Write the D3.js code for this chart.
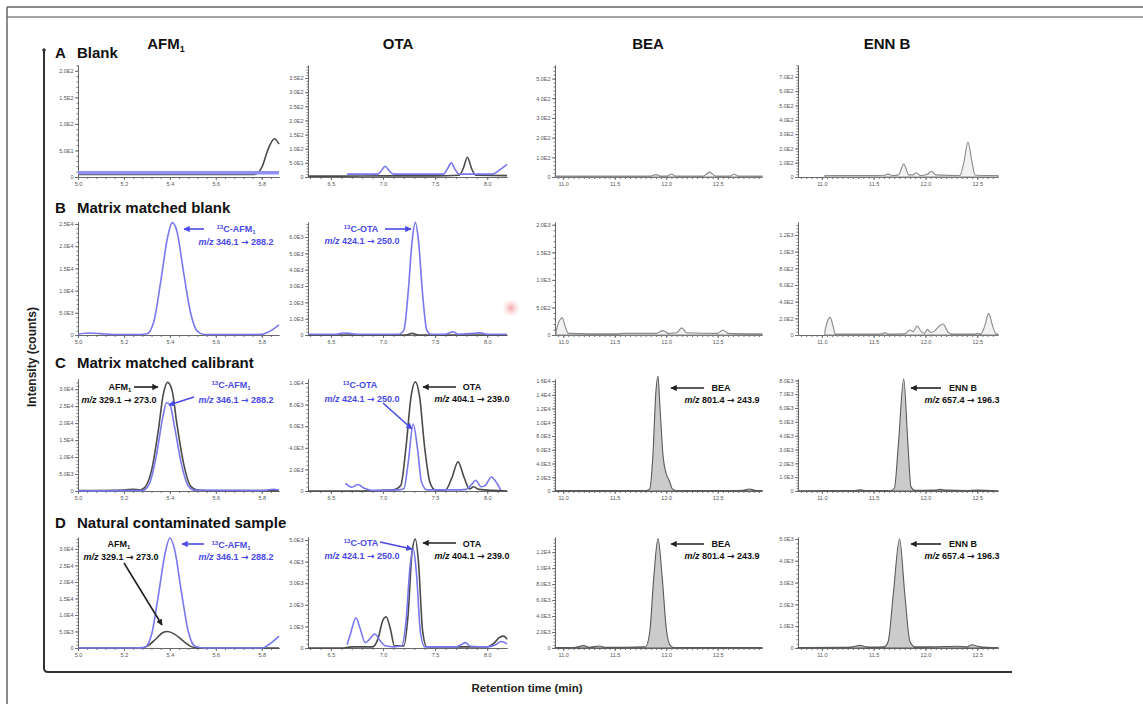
<!DOCTYPE html>
<html><head><meta charset="utf-8">
<script src="https://cdn.jsdelivr.net/npm/d3@7"></script>
<style>
body{margin:0;background:#fff;}
svg{display:block;font-family:"Liberation Sans",Arial,sans-serif;}
</style></head><body>
<svg id="c" width="1143" height="704"></svg>
<script>
// ---------------- DATA ----------------
const rowLetters = ["A","B","C","D"];
const rowTitles = ["Blank","Matrix matched blank","Matrix matched calibrant","Natural contaminated sample"];
const columnTitles = [["AFM","1"],["OTA",""],["BEA",""],["ENN B",""]];

const afmXTicks = [5.0,5.2,5.4,5.6,5.8];
const otaXTicks = [6.5,7.0,7.5,8.0];
const beaXTicks = [11.0,11.5,12.0,12.5];
const ennXTicks = [11.0,11.5,12.0,12.5];

const afmYTicksA = [0,50,100,150,200];
const otaYTicksA = [0,50,100,150,200,250,300,350];
const beaYTicksA = [0,100,200,300,400,500];
const ennYTicksA = [0,100,200,300,400,500,600,700];
const afmYTicksB = [0,5000,10000,15000,20000,25000];
const otaYTicksB = [0,1000,2000,3000,4000,5000,6000];
const beaYTicksB = [0,500,1000,1500,2000];
const ennYTicksB = [0,200,400,600,800,1000,1200];
const afmYTicksC = [0,5000,10000,15000,20000,25000,30000];
const otaYTicksC = [0,2000,4000,6000,8000,10000];
const beaYTicksC = [0,2000,4000,6000,8000,10000,12000,14000,16000];
const ennYTicksC = [0,1000,2000,3000,4000,5000,6000,7000,8000];
const afmYTicksD = [0,5000,10000,15000,20000,25000,30000];
const otaYTicksD = [0,1000,2000,3000,4000,5000];
const beaYTicksD = [0,2000,4000,6000,8000,10000,12000];
const ennYTicksD = [0,1000,2000,3000,4000,5000];

// traces: [retention time (min), intensity (counts)]
const afmA_analyte = [[5.0,5],[5.3,5],[5.6,5],[5.77,5],[5.8,18],[5.83,55],[5.855,72],[5.875,62]];
const afmA_label   = [[5.0,8],[5.4,8],[5.875,8]];
const afmB_label   = [[5.0,200],[5.05,450],[5.1,300],[5.15,100],[5.25,100],[5.3,300],[5.33,3000],[5.36,12000],[5.39,22000],[5.41,25300],[5.43,23500],[5.46,14000],[5.49,5000],[5.52,800],[5.55,100],[5.7,100],[5.8,150],[5.83,700],[5.875,2300]];
const afmC_analyte = [[5.0,100],[5.2,300],[5.24,500],[5.27,300],[5.29,1000],[5.32,6000],[5.35,18000],[5.37,28000],[5.39,32000],[5.41,29500],[5.43,20000],[5.46,8000],[5.49,1500],[5.52,300],[5.6,100],[5.875,100]];
const afmC_label   = [[5.0,0],[5.2,100],[5.28,100],[5.31,2000],[5.34,10000],[5.37,22000],[5.385,26000],[5.4,25500],[5.42,19000],[5.45,8000],[5.48,1500],[5.51,200],[5.8,100],[5.85,500],[5.875,300]];
const afmD_analyte = [[5.0,0],[5.27,0],[5.3,500],[5.34,2800],[5.37,4700],[5.39,5000],[5.42,4200],[5.46,2000],[5.49,500],[5.52,0],[5.875,0]];
const afmD_label   = [[5.0,0],[5.25,0],[5.29,200],[5.32,4000],[5.35,16000],[5.38,29000],[5.40,33300],[5.42,30000],[5.45,17000],[5.48,5000],[5.51,500],[5.55,0],[5.8,0],[5.83,1000],[5.875,3600]];

const otaA_analyte = [[6.28,3],[6.6,3],[7.0,4],[7.5,4],[7.73,6],[7.77,30],[7.81,70],[7.85,30],[7.89,6],[8.19,5]];
const otaA_label   = [[6.655,10],[6.95,10],[6.99,25],[7.02,38],[7.06,22],[7.1,10],[7.58,10],[7.62,30],[7.655,50],[7.69,28],[7.73,10],[8.05,10],[8.12,25],[8.19,45]];
const otaB_analyte = [[6.28,0],[7.22,0],[7.28,100],[7.34,0],[8.19,0]];
const otaB_label   = [[6.28,50],[6.55,50],[6.62,120],[6.68,100],[6.75,50],[7.15,50],[7.2,300],[7.24,2500],[7.28,5800],[7.31,6900],[7.34,5800],[7.38,2500],[7.42,300],[7.46,50],[7.6,50],[7.67,200],[7.72,50],[7.88,100],[7.93,130],[8.0,50],[8.19,50]];
const otaC_analyte = [[6.28,0],[6.8,0],[7.1,100],[7.17,500],[7.22,4000],[7.27,8800],[7.31,10100],[7.35,8800],[7.4,4000],[7.45,800],[7.5,100],[7.6,100],[7.66,1200],[7.72,2700],[7.78,1200],[7.83,200],[7.87,400],[7.92,150],[8.19,0]];
const otaC_label   = [[6.64,700],[6.7,350],[6.76,600],[6.82,250],[6.9,50],[7.15,100],[7.2,200],[7.24,2500],[7.29,6200],[7.33,4000],[7.37,800],[7.42,100],[7.7,100],[7.8,150],[7.85,600],[7.89,1000],[7.94,400],[7.98,500],[8.04,1300],[8.08,900],[8.13,100]];
const otaD_analyte = [[6.28,0],[6.6,0],[6.7,50],[6.9,50],[6.95,400],[7.0,1300],[7.03,1450],[7.07,900],[7.11,100],[7.2,100],[7.24,1500],[7.28,4500],[7.31,5050],[7.34,4000],[7.38,800],[7.42,50],[8.0,50],[8.06,200],[8.12,500],[8.16,550],[8.19,400]];
const otaD_label   = [[6.655,150],[6.69,700],[6.74,1400],[6.78,900],[6.83,250],[6.87,400],[6.92,650],[6.97,350],[7.02,100],[7.1,50],[7.18,100],[7.22,1200],[7.26,3800],[7.29,4600],[7.32,3500],[7.36,700],[7.4,50],[7.7,50],[7.75,150],[7.79,250],[7.84,80],[8.0,50],[8.08,150],[8.13,300],[8.19,200]];

const beaA = [[10.92,5],[11.85,5],[11.9,12],[11.94,5],[12.01,5],[12.05,15],[12.09,5],[12.36,5],[12.42,25],[12.48,5],[12.62,5],[12.66,14],[12.7,5],[12.93,5]];
const beaB = [[10.93,60],[10.96,250],[10.99,310],[11.02,150],[11.05,30],[11.5,20],[11.6,30],[11.9,30],[11.97,80],[12.02,30],[12.1,40],[12.15,130],[12.2,40],[12.5,30],[12.55,90],[12.6,30],[12.93,20]];
const beaC = [[10.92,50],[11.5,50],[11.8,60],[11.84,300],[11.87,5000],[11.9,14500],[11.92,16700],[11.94,12000],[11.97,5000],[12.0,2500],[12.03,1500],[12.06,300],[12.1,50],[12.6,50],[12.75,100],[12.81,300],[12.86,100],[12.93,50]];
const beaD = [[10.92,50],[11.1,50],[11.2,300],[11.25,100],[11.35,250],[11.4,100],[11.6,100],[11.8,150],[11.84,2000],[11.88,9000],[11.92,13700],[11.96,9000],[12.0,2500],[12.04,300],[12.08,50],[12.93,50]];

const ennA = [[11.03,10],[11.5,10],[11.6,12],[11.64,20],[11.68,10],[11.74,15],[11.79,90],[11.84,15],[11.88,15],[11.91,30],[11.95,10],[12.02,20],[12.06,40],[12.1,15],[12.33,10],[12.37,100],[12.41,245],[12.45,100],[12.48,12],[12.70,10]];
const ennB = [[11.03,50],[11.05,150],[11.08,212],[11.11,100],[11.13,10],[11.5,10],[11.58,15],[11.61,28],[11.64,10],[11.8,15],[11.85,60],[11.88,40],[11.92,108],[11.96,40],[11.99,20],[12.02,68],[12.05,30],[12.09,50],[12.12,92],[12.17,132],[12.22,30],[12.27,10],[12.47,10],[12.5,20],[12.53,10],[12.57,100],[12.61,260],[12.65,100],[12.68,15],[12.70,10]];
const ennC = [[10.77,20],[11.3,30],[11.37,90],[11.43,30],[11.6,40],[11.66,20],[11.7,200],[11.74,3500],[11.79,8100],[11.83,3500],[11.86,300],[11.9,50],[12.1,60],[12.14,120],[12.2,60],[12.4,40],[12.5,60],[12.70,20]];
const ennD = [[10.77,20],[11.2,30],[11.3,60],[11.37,120],[11.42,60],[11.5,40],[11.6,50],[11.64,300],[11.69,2500],[11.75,5000],[11.8,2500],[11.85,300],[11.9,50],[12.1,60],[12.3,80],[12.4,60],[12.45,150],[12.5,80],[12.6,30],[12.70,20]];

const mzAFM = "329.1 \u2192 273.0";
const mzAFMlabel = "346.1 \u2192 288.2";
const mzOTA = "404.1 \u2192 239.0";
const mzOTAlabel = "424.1 \u2192 250.0";
const mzBEA = "801.4 \u2192 243.9";
const mzENN = "657.4 \u2192 196.3";

// ---------------- LAYOUT ----------------
const W = 1143, H = 704;
const BLUE = "#7878ee", BLUE_TXT = "#4a4ae6", DARK = "#4a4a4a";
const colLayout = [
  {left:78, right:279, domain:[5.0,5.875], minor:0.04, xTicks:afmXTicks},
  {left:308, right:507, domain:[6.28,8.19], minor:0.1, xTicks:otaXTicks},
  {left:555, right:762, domain:[10.92,12.93], minor:0.05, xTicks:beaXTicks},
  {left:798, right:998, domain:[10.77,12.70], minor:0.05, xTicks:ennXTicks}
];
const rowLayout = [{top:65, base:177},{top:222, base:335},{top:379, base:491},{top:537, base:648}];

const panels = [
  {r:0,c:0,yMax:211,yTicks:afmYTicksA,traces:[{d:afmA_analyte,t:"black"},{d:afmA_label,t:"band"}]},
  {r:0,c:1,yMax:396,yTicks:otaYTicksA,traces:[{d:otaA_analyte,t:"black"},{d:otaA_label,t:"blue"}]},
  {r:0,c:2,yMax:569,yTicks:beaYTicksA,traces:[{d:beaA,t:"light"}]},
  {r:0,c:3,yMax:783,yTicks:ennYTicksA,traces:[{d:ennA,t:"light"}]},
  {r:1,c:0,yMax:25450,yTicks:afmYTicksB,traces:[{d:afmB_label,t:"blue"}]},
  {r:1,c:1,yMax:6920,yTicks:otaYTicksB,traces:[{d:otaB_analyte,t:"black"},{d:otaB_label,t:"blue"}]},
  {r:1,c:2,yMax:2050,yTicks:beaYTicksB,traces:[{d:beaB,t:"light"}]},
  {r:1,c:3,yMax:1356,yTicks:ennYTicksB,traces:[{d:ennB,t:"light"}]},
  {r:2,c:0,yMax:33000,yTicks:afmYTicksC,traces:[{d:afmC_analyte,t:"black"},{d:afmC_label,t:"blue"}]},
  {r:2,c:1,yMax:10370,yTicks:otaYTicksC,traces:[{d:otaC_analyte,t:"black"},{d:otaC_label,t:"blue"}]},
  {r:2,c:2,yMax:16300,yTicks:beaYTicksC,traces:[{d:beaC,t:"fill"}]},
  {r:2,c:3,yMax:8100,yTicks:ennYTicksC,traces:[{d:ennC,t:"fill"}]},
  {r:3,c:0,yMax:33600,yTicks:afmYTicksD,traces:[{d:afmD_analyte,t:"black"},{d:afmD_label,t:"blue"}]},
  {r:3,c:1,yMax:5140,yTicks:otaYTicksD,traces:[{d:otaD_analyte,t:"black"},{d:otaD_label,t:"blue"}]},
  {r:3,c:2,yMax:13900,yTicks:beaYTicksD,traces:[{d:beaD,t:"fill"}]},
  {r:3,c:3,yMax:5090,yTicks:ennYTicksD,traces:[{d:ennD,t:"fill"}]}
];

const svg = d3.select("#c");
const defs = svg.append("defs");
function marker(id,color){
  defs.append("marker").attr("id",id).attr("viewBox","0 0 10 10").attr("refX",9).attr("refY",5)
    .attr("markerWidth",4).attr("markerHeight",4).attr("orient","auto-start-reverse")
    .append("path").attr("d","M0,0 L10,5 L0,10 z").attr("fill",color);
}
marker("ab","#222"); marker("au",BLUE_TXT);
const rg = defs.append("radialGradient").attr("id","pink");
rg.append("stop").attr("offset","0%").attr("stop-color","#f2a0a0").attr("stop-opacity",0.9);
rg.append("stop").attr("offset","100%").attr("stop-color","#f6c8c8").attr("stop-opacity",0);

// outer frame
svg.append("line").attr("x1",7).attr("y1",7).attr("x2",W).attr("y2",7).attr("stroke","#666").attr("stroke-width",1.5);
svg.append("line").attr("x1",7).attr("y1",17).attr("x2",W).attr("y2",17).attr("stroke","#888").attr("stroke-width",1.5);
svg.append("line").attr("x1",7).attr("y1",7).attr("x2",7).attr("y2",H).attr("stroke","#666").attr("stroke-width",1.5);
// inner L frame
svg.append("path").attr("d","M44,50 L44,668 Q44,672 48,672 L1012,672").attr("fill","none").attr("stroke","#333").attr("stroke-width",2);
svg.append("circle").attr("cx",44).attr("cy",50).attr("r",1.8).attr("fill","#333");

svg.append("text").attr("transform","translate(36,357) rotate(-90)").attr("text-anchor","middle")
  .attr("font-size",12).attr("font-weight","bold").attr("fill","#222").text("Intensity (counts)");
svg.append("text").attr("x",527).attr("y",692).attr("text-anchor","middle")
  .attr("font-size",11.5).attr("font-weight","bold").attr("fill","#222").text("Retention time (min)");

// column titles
const colCenters = [166,398,648,887];
columnTitles.forEach((t,i)=>{
  const tx = svg.append("text").attr("x",colCenters[i]).attr("y",49).attr("text-anchor","middle")
    .attr("font-size",15).attr("font-weight","bold").attr("fill","#111");
  tx.append("tspan").text(t[0]);
  if(t[1]) tx.append("tspan").attr("font-size",9).attr("dy",3).text(t[1]);
});
// row titles
const rowTitleY = [58,213,368,528];
rowLetters.forEach((l,i)=>{
  svg.append("text").attr("x",55).attr("y",rowTitleY[i]).attr("font-size",15).attr("font-weight","bold").attr("fill","#111").text(l);
  svg.append("text").attr("x",77).attr("y",rowTitleY[i]).attr("font-size",15).attr("font-weight","bold").attr("fill","#111").text(rowTitles[i]);
});

const fmtY = v => v===0 ? "0" : v.toExponential(1).replace("e+","E");
const fmtX = d3.format(".1f");

panels.forEach(p=>{
  const col = colLayout[p.c], row = rowLayout[p.r];
  const x = d3.scaleLinear().domain(col.domain).range([col.left,col.right]);
  const y = d3.scaleLinear().domain([0,p.yMax]).range([row.base,row.top]);
  const g = svg.append("g");
  const xMinorVals = d3.range(Math.ceil(col.domain[0]/col.minor-1e-6)*col.minor, col.domain[1], col.minor);
  const gx1 = g.append("g").attr("transform",`translate(0,${row.base})`)
    .call(d3.axisBottom(x).tickValues(xMinorVals).tickSize(2).tickSizeOuter(0).tickFormat(""));
  const gx2 = g.append("g").attr("transform",`translate(0,${row.base})`)
    .call(d3.axisBottom(x).tickValues(col.xTicks).tickSize(3).tickSizeOuter(0).tickPadding(2).tickFormat(fmtX));
  const step = p.yTicks[1]-p.yTicks[0];
  const yMinorVals = d3.range(0, p.yMax, step/5);
  const gy1 = g.append("g").attr("transform",`translate(${col.left},0)`)
    .call(d3.axisLeft(y).tickValues(yMinorVals).tickSize(1.5).tickSizeOuter(0).tickFormat(""));
  const gy2 = g.append("g").attr("transform",`translate(${col.left},0)`)
    .call(d3.axisLeft(y).tickValues(p.yTicks).tickSize(3).tickSizeOuter(0).tickPadding(1.5).tickFormat(fmtY));
  [gx1,gx2,gy1,gy2].forEach(a=>{
    a.selectAll("path,line").attr("stroke","#666").attr("stroke-width",0.9);
    a.selectAll("text").attr("font-size",5.5).attr("fill","#555").attr("font-family","Liberation Sans, Arial, sans-serif");
  });
  const line = d3.line().x(d=>x(d[0])).y(d=>y(d[1])).curve(d3.curveMonotoneX);
  const area = d3.area().x(d=>x(d[0])).y0(row.base).y1(d=>y(d[1])).curve(d3.curveMonotoneX);
  p.traces.forEach(tr=>{
    if(tr.t==="black") g.append("path").attr("d",line(tr.d)).attr("fill","none").attr("stroke",DARK).attr("stroke-width",1.6);
    else if(tr.t==="blue") g.append("path").attr("d",line(tr.d)).attr("fill","none").attr("stroke",BLUE).attr("stroke-width",1.6);
    else if(tr.t==="band") g.append("path").attr("d",line(tr.d)).attr("fill","none").attr("stroke","#9090f0").attr("stroke-width",3.5);
    else if(tr.t==="light") g.append("path").attr("d",area(tr.d)).attr("fill","#f2f2f2").attr("stroke","#8a8a8a").attr("stroke-width",1.1);
    else g.append("path").attr("d",area(tr.d)).attr("fill","#cbcbcb").attr("stroke","#5a5a5a").attr("stroke-width",1.1);
  });
});

// ---------------- ANNOTATIONS ----------------
const FS = 9;
function label(x,y,main,sup,sub,color){
  const t = svg.append("text").attr("x",x).attr("y",y).attr("text-anchor","middle")
    .attr("font-size",FS).attr("font-weight","bold").attr("fill",color);
  if(sup) t.append("tspan").attr("font-size",6).attr("dy",-3).text(sup);
  t.append("tspan").attr("dy",sup?3:0).text(main);
  if(sub) t.append("tspan").attr("font-size",6).attr("dy",2).text(sub);
}
function mz(x,y,val,color){
  const parts = val.split("\u2192");
  const t = svg.append("text").attr("x",x).attr("y",y).attr("text-anchor","middle")
    .attr("font-size",FS).attr("font-weight","bold").attr("fill",color);
  t.append("tspan").attr("font-style","italic").text("m/z");
  t.append("tspan").text(" "+parts[0]);
  t.append("tspan").attr("font-family","DejaVu Sans").text("\u2192");
  t.append("tspan").text(parts[1]);
}
function arrow(x1,y1,x2,y2,color,id){
  svg.append("line").attr("x1",x1).attr("y1",y1).attr("x2",x2).attr("y2",y2)
    .attr("stroke",color).attr("stroke-width",1.6).attr("marker-end",`url(#${id})`);
}
// AFM1
arrow(204,229,184,229,BLUE_TXT,"au"); label(236,232,"C-AFM","13","1",BLUE_TXT); mz(236,245,mzAFMlabel,BLUE_TXT);
label(120,390,"AFM",null,"1","#111"); arrow(134,387,158,387,"#222","ab"); mz(119,403,mzAFM,"#111");
label(231,388,"C-AFM","13","1",BLUE_TXT); mz(236,403,mzAFMlabel,BLUE_TXT); arrow(194,397,169,405,BLUE_TXT,"au");
label(119,547,"AFM",null,"1","#111"); mz(121,560,mzAFM,"#111"); arrow(124,563,162,625,"#222","ab");
arrow(204,544,182,544,BLUE_TXT,"au"); label(231,548,"C-AFM","13","1",BLUE_TXT); mz(236,560,mzAFMlabel,BLUE_TXT);
// OTA
label(361,232,"C-OTA","13",null,BLUE_TXT); arrow(385,229,411,229,BLUE_TXT,"au"); mz(362,244,mzOTAlabel,BLUE_TXT);
label(360,388,"C-OTA","13",null,BLUE_TXT); mz(362,402,mzOTAlabel,BLUE_TXT); arrow(383,403,412,429,BLUE_TXT,"au");
arrow(456,387,423,387,"#222","ab"); label(472,390,"OTA",null,null,"#111"); mz(472,402,mzOTA,"#111");
label(361,546,"C-OTA","13",null,BLUE_TXT); arrow(380,542,412,549,BLUE_TXT,"au"); mz(362,559,mzOTAlabel,BLUE_TXT);
arrow(456,543,423,543,"#222","ab"); label(472,547,"OTA",null,null,"#111"); mz(472,559,mzOTA,"#111");
// BEA
arrow(704,388,671,388,"#222","ab"); label(721,391,"BEA",null,null,"#111"); mz(722,403,mzBEA,"#111");
arrow(704,544,671,544,"#222","ab"); label(721,547,"BEA",null,null,"#111"); mz(722,559,mzBEA,"#111");
// ENN B
arrow(941,388,911,388,"#222","ab"); label(963,391,"ENN B",null,null,"#111"); mz(962,403,mzENN,"#111");
arrow(941,544,911,544,"#222","ab"); label(963,547,"ENN B",null,null,"#111"); mz(962,559,mzENN,"#111");

// stray blurred spot in the scan
svg.append("circle").attr("cx",511).attr("cy",308).attr("r",9).attr("fill","url(#pink)");
</script></body></html>
